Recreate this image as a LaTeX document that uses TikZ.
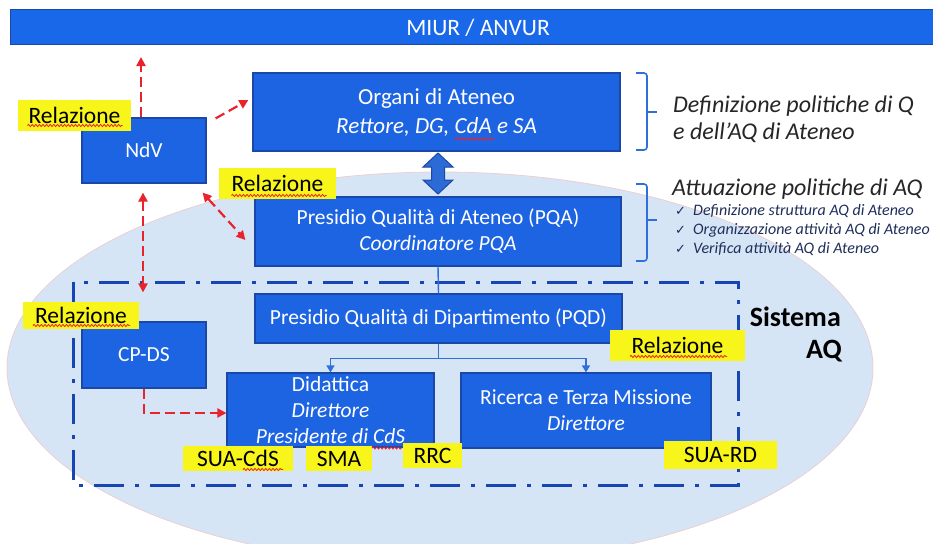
\documentclass[tikz,border=0pt]{standalone}
\usepackage{fontspec}
\setmainfont{Carlito}
\newfontfamily\dejavu{DejaVu Sans}
\usetikzlibrary{arrows.meta,calc,decorations.pathmorphing}
\definecolor{boxblue}{HTML}{1D64E3}
\definecolor{boxedge}{HTML}{1B47A8}
\definecolor{barblue}{HTML}{1A68EA}
\definecolor{ellfill}{HTML}{D6E5F6}
\definecolor{elledge}{HTML}{EBCFD2}
\definecolor{frameblue}{HTML}{1746B3}
\definecolor{redc}{HTML}{E8232B}
\definecolor{hlyellow}{HTML}{F8F51A}
\definecolor{connblue}{HTML}{2F6FDB}
\definecolor{arrblue}{HTML}{2C6AD6}
\definecolor{txtdark}{HTML}{262626}
\definecolor{navy}{HTML}{1F2F5A}
\begin{document}
\begin{tikzpicture}[x=1pt,y=-1pt,
  box/.style={draw=boxedge, fill=boxblue, line width=1.2pt, text=white, inner sep=0pt,
    align=center, font=\fontsize{21.5}{26}\selectfont},
  barbox/.style={draw=boxedge, fill=barblue, line width=1pt, text=white, inner sep=0pt,
    font=\fontsize{23.5}{26}\selectfont},
  hlbox/.style={fill=hlyellow, inner sep=0pt, text=black, font=\fontsize{23.5}{26}\selectfont},
  rarr/.style={draw=redc, line width=2.2pt, dash pattern=on 10pt off 5pt,
    -{Triangle[length=9pt,width=9pt]}},
  rarrboth/.style={draw=redc, line width=2.2pt, dash pattern=on 10pt off 5pt,
    {Triangle[length=9pt,width=9pt]}-{Triangle[length=9pt,width=9pt]}},
  connline/.style={draw=connblue, line width=1.4pt},
  connarrow/.style={draw=connblue, line width=1.4pt, -{Triangle[length=7pt,width=8pt]}},
  framebox/.style={draw=frameblue, line width=3pt, dash pattern=on 30pt off 11pt on 4pt off 11pt},
  brack/.style={draw=connblue, line width=1.6pt, rounded corners=3pt},
  rtext/.style={text=txtdark, inner sep=0pt, font=\itshape\fontsize{24}{27}\selectfont},
  itemtext/.style={text=navy, inner sep=0pt, font=\itshape\fontsize{16}{18}\selectfont},
  sistext/.style={text=black, inner sep=0pt, font=\bfseries\fontsize{28}{30}\selectfont},
  wavy/.style={draw=redc, line width=0.8pt, decorate, decoration={snake, amplitude=1.1pt, segment length=3.6pt}}
]
\useasboundingbox (0,0) rectangle (933,543);
\fill[white] (0,0) rectangle (933,543);
\clip (0,0) rectangle (933,543);

% background ellipse
\filldraw[fill=ellfill, draw=elledge, line width=0.8pt] (440,368) ellipse [x radius=433pt, y radius=196pt];

% Sistema AQ frame
\draw[framebox] (73,282) rectangle (738,485);

% top bar
\node[barbox, minimum width=936pt, minimum height=35pt] (miur) at (478,27.5) {MIUR / ANVUR};

% boxes
\node[box, minimum width=367pt, minimum height=78pt, font=\fontsize{23}{29}\selectfont] (organi) at (436.5,112)
  {Organi di Ateneo\\\textit{Rettore, DG, CdA e SA}};
\node[box, minimum width=366pt, minimum height=69pt, font=\fontsize{21.5}{26}\selectfont] (pqa) at (438,231.5)
  {Presidio Qualità di Ateneo (PQA)\\\textit{Coordinatore PQA}};
\node[box, minimum width=367pt, minimum height=49pt] (pqd) at (438.5,318.5)
  {Presidio Qualità di Dipartimento (PQD)};
\node[box, minimum width=124pt, minimum height=65pt] (ndv) at (144,150.5) {NdV};
\node[box, minimum width=124pt, minimum height=66pt] (cpds) at (144,355) {CP-DS};
\node[box, minimum width=207pt, minimum height=74pt] (did) at (330.5,410)
  {Didattica\\\textit{Direttore}\\\textit{Presidente di CdS}};
\node[box, minimum width=250pt, minimum height=75pt] (ric) at (586,410.5)
  {Ricerca e Terza Missione\\\textit{Direttore}};

% double block arrow between Organi and PQA
\filldraw[fill=arrblue, draw=boxedge, line width=1pt]
  (438,153) -- (453,167) -- (444.5,167) -- (444.5,180) -- (453,180) -- (438,194)
  -- (423,180) -- (431.5,180) -- (431.5,167) -- (423,167) -- cycle;

% blue connectors
\draw[connline] (pqa.south) -- (pqd.north);
\draw[connarrow] (pqd.south) -- ++(0,15) -| (did.north);
\draw[connarrow] (pqd.south) -- ++(0,15) -| (ric.north);

% highlight labels
\node[hlbox, minimum width=113pt, minimum height=31pt] (rel1) at (74.5,115.5) {Relazione};
\node[hlbox, minimum width=117pt, minimum height=31pt] (rel2) at (277.5,183.5) {Relazione};
\node[hlbox, minimum width=116pt, minimum height=27pt] (rel3) at (81,315.5) {Relazione};
\node[hlbox, minimum width=135pt, minimum height=31pt] (rel4) at (677.5,345.5) {Relazione};
\node[hlbox, minimum width=110pt, minimum height=25pt] (suacds) at (238,458.5) {SUA-CdS};
\node[hlbox, minimum width=66pt, minimum height=25pt] (sma) at (339,458.5) {SMA};
\node[hlbox, minimum width=59pt, minimum height=25pt] (rrc) at (432.5,455.5) {RRC};
\node[hlbox, minimum width=113pt, minimum height=28pt] (suard) at (720.5,455) {SUA-RD};

% spell-check wavy underlines
\draw[wavy] ($(rel1.center)+(-47,10)$) -- ($(rel1.center)+(48,10)$);
\draw[wavy] ($(rel2.center)+(-46,12)$) -- ($(rel2.center)+(49,12)$);
\draw[wavy] ($(rel3.center)+(-48,10)$) -- ($(rel3.center)+(49,10)$);
\draw[wavy] ($(rel4.center)+(-47.5,11)$) -- ($(rel4.center)+(49.5,11)$);
\draw[wavy] (455,139) -- (495,139);
\draw[wavy] (372,448) -- (402,448);
\draw[wavy] (243,469.5) -- (283,469.5);

% red dashed arrows
\coordinate (ndvtop) at (141,57);
\draw[rarr] ($(ndv.north)+(-3,0)$) -- (ndvtop);
\draw[rarr] ($(ndv.north east)+(9,1)$) -- ($(organi.west)+(-4,-12)$);
\draw[rarrboth] ($(ndv.south east)+(-4,9)$) -- ($(pqa.west)+(-9,8.5)$);
\draw[rarrboth] ($(ndv.south)+(-1,9)$) -- ($(cpds.north)+(-1,-29)$);
\draw[rarr] (cpds.south) |- ($(did.west)+(0,3)$);

% right-hand brackets
\coordinate (b1t) at (636,73);
\coordinate (b1b) at (636,150);
\coordinate (b1m) at (657,112);
\draw[brack] (b1t) -- (647,73) -- (647,150) -- (b1b);
\draw[brack] (647,112) -- (b1m);
\coordinate (b2t) at (636,184);
\coordinate (b2b) at (636,261);
\coordinate (b2m) at (657,220);
\draw[brack] (b2t) -- (647,184) -- (647,261) -- (b2b);
\draw[brack] (647,220) -- (b2m);

% right-hand texts
\node[rtext, anchor=base west] (def1) at (673,112) {Definizione politiche di Q};
\node[rtext, anchor=base west] (def2) at (673,139) {e dell’AQ di Ateneo};
\node[rtext, anchor=base west] (att) at (672,195) {Attuazione politiche di AQ};
\node[itemtext, anchor=base west] (it1) at (675,215) {\makebox[18pt][l]{\upshape\dejavu\fontsize{13}{14}\selectfont ✓}Definizione struttura AQ di Ateneo};
\node[itemtext, anchor=base west] (it2) at (675,234) {\makebox[18pt][l]{\upshape\dejavu\fontsize{13}{14}\selectfont ✓}Organizzazione attività AQ di Ateneo};
\node[itemtext, anchor=base west] (it3) at (675,253) {\makebox[18pt][l]{\upshape\dejavu\fontsize{13}{14}\selectfont ✓}Verifica attività AQ di Ateneo};

% Sistema AQ
\node[sistext, anchor=base east] (sis1) at (841,326) {Sistema};
\node[sistext, anchor=base east] (sis2) at (842,358) {AQ};
\end{tikzpicture}
\end{document}
